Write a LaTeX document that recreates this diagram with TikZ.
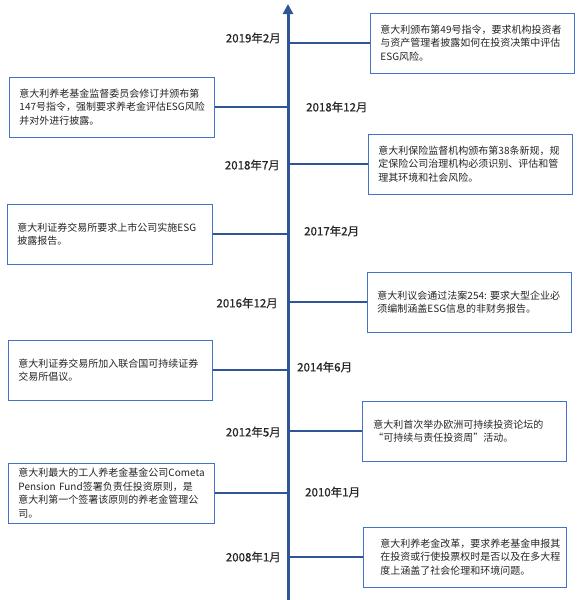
\documentclass[tikz,border=0pt]{standalone}
\usepackage{fontspec}
\setmainfont{Noto Sans CJK SC}
\newfontfamily\lblfont[FakeBold=0.7]{Noto Sans CJK SC}
\usetikzlibrary{arrows.meta}
\definecolor{axisblue}{HTML}{2F5597}
\definecolor{boxblue}{HTML}{4472C4}
\definecolor{txtgray}{HTML}{262626}
\begin{document}
\begin{tikzpicture}[x=1pt,y=-1pt,
  ev/.style={draw=boxblue, line width=0.9pt, fill=white, align=left, text=txtgray,
    font=\fontsize{10}{13.5}\selectfont, inner ysep=0pt, minimum height=60pt, anchor=west},
  datel/.style={font=\lblfont\fontsize{11.5}{12}\selectfont, inner sep=0pt, text=txtgray},
  conn/.style={draw=axisblue, line width=2.3pt},
]
\useasboundingbox (0,0) rectangle (581,600);
\fill[white] (0,0) rectangle (581,600);
\coordinate (axbot) at (288,600);
\coordinate (axtop) at (288,4);

% event boxes (right side)
\node[ev, text width=184pt, inner xsep=10pt] (r1) at (370,43)
  {意大利颁布第49号指令，要求机构投资者\\与资产管理者披露如何在投资决策中评估\\ESG风险。};
\node[ev, text width=184pt, inner xsep=10pt] (r2) at (368,164)
  {意大利保险监督机构颁布第38条新规，规\\定保险公司治理机构必须识别、评估和管\\理其环境和社会风险。};
\node[ev, text width=184pt, inner xsep=10pt] (r3) at (367,302)
  {意大利议会通过法案254:~要求大型企业必\\须编制涵盖ESG信息的非财务报告。};
\node[ev, text width=182pt, inner xsep=11pt] (r4) at (362,431)
  {意大利首次举办欧洲可持续投资论坛的\\“可持续与责任投资周”活动。};
\node[ev, text width=169pt, inner xsep=17pt] (r5) at (363,557)
  {意大利养老金改革，要求养老基金申报其\\在投资或行使投票权时是否以及在多大程\\度上涵盖了社会伦理和环境问题。};

% event boxes (left side)
\node[ev, text width=185pt, inner xsep=10pt] (l1) at (9,107)
  {意大利养老基金监督委员会修订并颁布第\\147号指令，强制要求养老金评估ESG风险\\并对外进行披露。};
\node[ev, text width=185pt, inner xsep=10pt] (l2) at (7,234)
  {意大利证券交易所要求上市公司实施ESG\\披露报告。};
\node[ev, text width=184pt, inner xsep=10pt] (l3) at (8,370)
  {意大利证券交易所加入联合国可持续证券\\交易所倡议。};
\node[ev, text width=186pt, inner xsep=10pt] (l4) at (8,493)
  {意大利最大的工人养老金基金公司Cometa\\Pension~Fund签署负责任投资原则，是\\意大利第一个签署该原则的养老金管理公\\司。};

% connectors
\foreach \b in {r1,r2,r3,r4,r5}
  \draw[conn] (axbot |- \b.west) -- (\b.west);
\foreach \b in {l1,l2,l3,l4}
  \draw[conn] (\b.east) -- (axbot |- \b.east);

% axis
\draw[axisblue, line width=3pt, -{Triangle[width=10pt,length=10pt]}] (axbot) -- (axtop);

% date labels
\node[datel, anchor=east] (d1) at (281,38) {2019年2月};
\node[datel, anchor=west] (d2) at (306,107) {2018年12月};
\node[datel, anchor=east] (d3) at (280,165) {2018年7月};
\node[datel, anchor=west] (d4) at (304,231) {2017年2月};
\node[datel, anchor=east] (d5) at (278,303) {2016年12月};
\node[datel, anchor=west] (d6) at (297,367) {2014年6月};
\node[datel, anchor=east] (d7) at (281,432) {2012年5月};
\node[datel, anchor=west] (d8) at (305,492) {2010年1月};
\node[datel, anchor=east] (d9) at (281,557) {2008年1月};
\end{tikzpicture}
\end{document}
